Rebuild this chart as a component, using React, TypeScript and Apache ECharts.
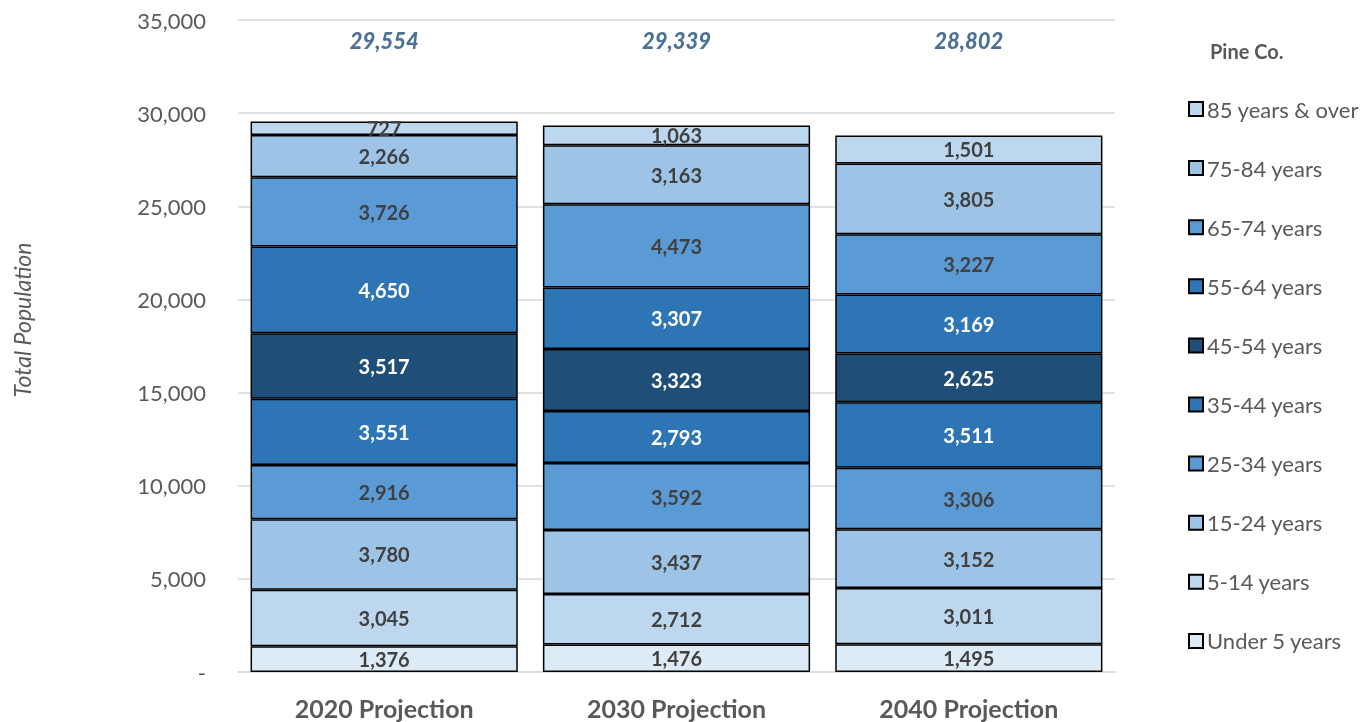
import React, { useEffect, useRef } from "react";
import * as echarts from "echarts";

const categories = ["2020 Projection", "2030 Projection", "2040 Projection"];
const ageGroups = [
  "Under 5 years",
  "5-14 years",
  "15-24 years",
  "25-34 years",
  "35-44 years",
  "45-54 years",
  "55-64 years",
  "65-74 years",
  "75-84 years",
  "85 years & over",
];
const under5 = [1376, 1476, 1495];
const y5to14 = [3045, 2712, 3011];
const y15to24 = [3780, 3437, 3152];
const y25to34 = [2916, 3592, 3306];
const y35to44 = [3551, 2793, 3511];
const y45to54 = [3517, 3323, 2625];
const y55to64 = [4650, 3307, 3169];
const y65to74 = [3726, 4473, 3227];
const y75to84 = [2266, 3163, 3805];
const y85plus = [727, 1063, 1501];
const seriesValues = [under5, y5to14, y15to24, y25to34, y35to44, y45to54, y55to64, y65to74, y75to84, y85plus];
const colors = ["#DDEBF7", "#BDD7EE", "#9DC3E6", "#5B9BD5", "#2E75B6", "#1F4E79", "#2E75B6", "#5B9BD5", "#9DC3E6", "#BDD7EE"];
const whiteLabel = [false, false, false, false, true, true, true, false, false, false];
const yTicks = [0, 5000, 10000, 15000, 20000, 25000, 30000, 35000];
const TOTAL_LABEL_LEVEL = 33900;

const FONT = "Lato, 'Open Sans', sans-serif";
const fmt = (v: number) => (v === 0 ? "-" : v.toLocaleString("en-US"));

export default function App() {
  const ref = useRef<HTMLDivElement>(null);
  useEffect(() => {
    if (!ref.current) return;
    const chart = echarts.init(ref.current, null, { renderer: "svg" });
    const totals = categories.map((_, i) => seriesValues.reduce((s, arr) => s + arr[i], 0));
    const series: any[] = ageGroups.map((name, k) => ({
      name,
      type: "bar",
      stack: "total",
      barCategoryGap: "8.6%",
      data: seriesValues[k],
      itemStyle: { color: colors[k], borderColor: "#000", borderWidth: 1.5 },
      label: {
        show: true,
        position: "inside",
        formatter: (p: any) => fmt(p.value),
        color: whiteLabel[k] ? "#FFFFFF" : "#404040",
        fontFamily: FONT,
        fontWeight: "bold",
        fontSize: 20,
      },
    }));
    series.push({
      name: "Total",
      type: "scatter",
      symbolSize: 0,
      data: totals.map((t, i) => ({ value: [categories[i], TOTAL_LABEL_LEVEL], total: t })),
      label: {
        show: true,
        position: "inside",
        formatter: (p: any) => fmt(p.data.total),
        color: "#1F4E79",
        fontFamily: FONT,
        fontWeight: 900,
        fontStyle: "italic",
        fontSize: 22,
      },
      silent: true,
    });
    chart.setOption({
      animation: false,
      grid: { left: 238, right: 252, top: 20, bottom: 50 },
      xAxis: {
        type: "category",
        data: categories,
        axisLine: { lineStyle: { color: "#D9D9D9", width: 1.5 } },
        axisTick: { show: false },
        axisLabel: {
          color: "#595959",
          fontFamily: FONT,
          fontWeight: "bold",
          fontSize: 25,
          margin: 23,
        },
      },
      yAxis: {
        type: "value",
        min: yTicks[0],
        max: yTicks[yTicks.length - 1],
        interval: 5000,
        axisLine: { show: false },
        axisTick: { show: false },
        splitLine: { lineStyle: { color: "#D9D9D9", width: 1.5 } },
        axisLabel: {
          color: "#595959",
          fontFamily: FONT,
          fontSize: 22,
          margin: 32,
          formatter: (v: number) => fmt(v),
        },
      },
      legend: {
        orient: "vertical",
        left: 1183,
        top: 93,
        itemWidth: 14,
        itemHeight: 14,
        itemGap: 37.1,
        data: ageGroups.slice().reverse(),
        icon: "rect",
        textStyle: { color: "#595959", fontFamily: FONT, fontSize: 22, lineHeight: 22, padding: [0, 0, 0, -1] },
      },
      graphic: [
        {
          type: "text",
          left: 1210,
          top: 41,
          style: { text: "Pine Co.", fill: "#595959", font: `bold 20px ${FONT}` },
        },
        {
          type: "text",
          x: 22,
          y: 320,
          rotation: Math.PI / 2,
          style: {
            text: "Total Population",
            fill: "#595959",
            font: `italic 23px ${FONT}`,
            align: "center",
            verticalAlign: "middle",
          },
        },
      ],
      series,
    });
    return () => chart.dispose();
  }, []);
  return <div ref={ref} style={{ position: "fixed", left: 0, top: 0, width: 1367, height: 722 }} />;
}
